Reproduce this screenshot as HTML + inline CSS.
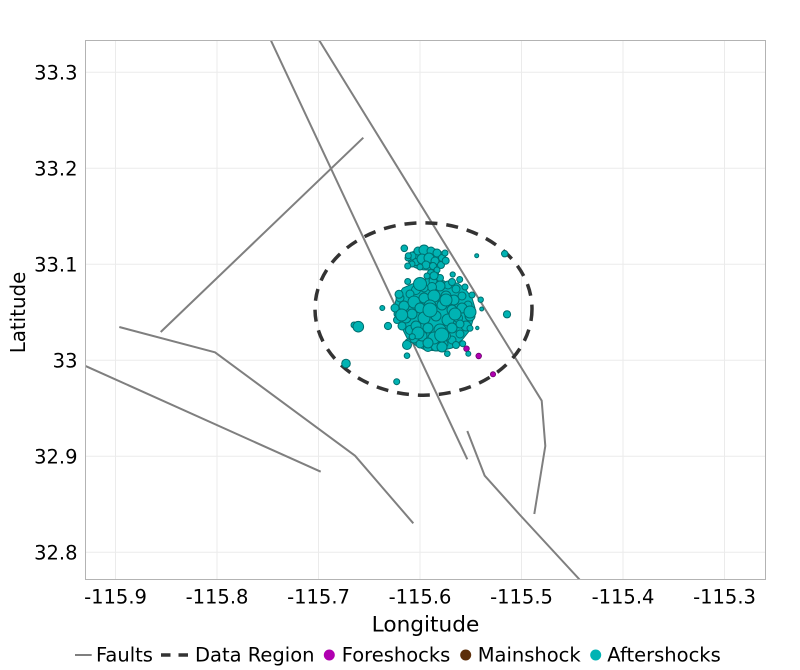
<!DOCTYPE html>
<html><head><meta charset="utf-8"><style>
html,body{margin:0;padding:0;background:#fff;}
svg{display:block;}
text{font-family:"DejaVu Sans","Liberation Sans",sans-serif;fill:#000;}
</style></head><body>
<svg width="800" height="670" viewBox="0 0 800 670" xmlns="http://www.w3.org/2000/svg">
<defs><clipPath id="pc"><rect x="85.5" y="40.5" width="680" height="539"/></clipPath></defs>
<rect x="0" y="0" width="800" height="670" fill="#fff"/>
<!-- grid -->
<g stroke="#ebebeb" stroke-width="1">
<line x1="85.5" x2="765.5" y1="72.3" y2="72.3"/>
<line x1="85.5" x2="765.5" y1="168.3" y2="168.3"/>
<line x1="85.5" x2="765.5" y1="264.3" y2="264.3"/>
<line x1="85.5" x2="765.5" y1="360.3" y2="360.3"/>
<line x1="85.5" x2="765.5" y1="456.3" y2="456.3"/>
<line x1="85.5" x2="765.5" y1="552.3" y2="552.3"/>
<line y1="40.5" y2="579.5" x1="115.5" x2="115.5"/>
<line y1="40.5" y2="579.5" x1="217" x2="217"/>
<line y1="40.5" y2="579.5" x1="318.5" x2="318.5"/>
<line y1="40.5" y2="579.5" x1="420" x2="420"/>
<line y1="40.5" y2="579.5" x1="521.5" x2="521.5"/>
<line y1="40.5" y2="579.5" x1="623" x2="623"/>
<line y1="40.5" y2="579.5" x1="724.5" x2="724.5"/>
</g>
<g clip-path="url(#pc)">
<!-- faults -->
<g stroke="#7f7f7f" stroke-width="2" fill="none" stroke-linejoin="round">
<polyline points="270.7,40 467.3,459.3"/>
<polyline points="319,40 541.7,400.7 545.3,446 534.3,514"/>
<polyline points="160.7,332 363.3,137.7"/>
<polyline points="119.3,327 215,352.3 355,455.7 413.3,523.3"/>
<polyline points="80,363.5 320.7,471.7"/>
<polyline points="467.3,431 484.7,475.7 520,515 580,580"/>
</g>
<!-- data region -->
<ellipse cx="423.5" cy="309" rx="108.5" ry="86.2" fill="none" stroke="#333" stroke-width="3.5" stroke-dasharray="12 9"/>
<!-- foreshocks -->
<g fill="#b000b0" stroke="#6a006a" stroke-width="0.8">
<circle cx="425" cy="338.3" r="2.8"/>
<circle cx="456" cy="342.3" r="2.5"/>
<circle cx="466.5" cy="348.7" r="2.8"/>
<circle cx="478.7" cy="356" r="2.8"/>
<circle cx="493" cy="374.3" r="2.6"/>
<circle cx="408" cy="312" r="2.2"/>
</g>
<!-- aftershock blob base -->
<g fill="#00b3b3" stroke="#006e6e" stroke-width="1">
<ellipse cx="427" cy="259" rx="19" ry="11"/>
<path d="M397,296 L403,288 L412,284 L425,280 L430,272 L438,272 L440,279 L448,283 L458,283 L466,290 L472,298 L475,308 L473,320 L470,330 L462,340 L452,348 L440,351 L425,350 L415,345 L407,338 L402,328 L396,318 L394,308 Z"/>
</g>
<!-- aftershocks -->
<g fill="#00b3b3" stroke="#006e6e" stroke-width="1">
<circle cx="412" cy="256" r="4"/><circle cx="418" cy="251" r="4"/><circle cx="424" cy="250" r="5"/>
<circle cx="431" cy="251" r="4"/><circle cx="437" cy="253" r="4"/><circle cx="442" cy="258" r="3.5"/>
<circle cx="416" cy="262" r="3.5"/><circle cx="422" cy="259" r="5"/><circle cx="429" cy="258" r="5"/>
<circle cx="435" cy="261" r="4"/><circle cx="441" cy="265" r="3.5"/><circle cx="426" cy="265" r="4"/>
<circle cx="433" cy="266" r="3.5"/><circle cx="420" cy="267" r="3"/><circle cx="412" cy="264" r="3"/>
<circle cx="445" cy="253" r="3"/><circle cx="408" cy="258" r="3"/><circle cx="437" cy="270" r="3"/>
<circle cx="431" cy="273" r="3.5"/><circle cx="433" cy="281" r="4"/><circle cx="440" cy="278" r="3.5"/>
<circle cx="427" cy="276" r="3"/>
<circle cx="400" cy="298" r="4"/><circle cx="404" cy="306" r="5"/><circle cx="398" cy="314" r="4"/>
<circle cx="406" cy="318" r="5"/><circle cx="402" cy="326" r="4"/><circle cx="410" cy="330" r="4.5"/>
<circle cx="414" cy="338" r="5"/><circle cx="420" cy="344" r="4"/><circle cx="428" cy="347" r="4.5"/>
<circle cx="436" cy="346" r="5"/><circle cx="444" cy="344" r="4"/><circle cx="452" cy="340" r="4"/>
<circle cx="460" cy="334" r="4"/><circle cx="466" cy="326" r="5"/><circle cx="470" cy="316" r="5"/>
<circle cx="468" cy="305" r="4"/><circle cx="462" cy="296" r="4"/><circle cx="456" cy="289" r="4"/>
<circle cx="448" cy="285" r="4"/><circle cx="440" cy="286" r="5"/><circle cx="432" cy="287" r="4.5"/>
<circle cx="424" cy="288" r="4"/><circle cx="416" cy="290" r="4.5"/><circle cx="410" cy="294" r="4"/>
<circle cx="414" cy="302" r="6"/><circle cx="424" cy="298" r="5"/><circle cx="434" cy="296" r="6"/>
<circle cx="446" cy="296" r="5"/><circle cx="454" cy="300" r="5"/><circle cx="462" cy="308" r="5"/>
<circle cx="420" cy="308" r="5"/><circle cx="430" cy="306" r="6"/><circle cx="442" cy="305" r="5"/>
<circle cx="452" cy="310" r="5"/><circle cx="412" cy="314" r="5"/><circle cx="424" cy="318" r="6"/>
<circle cx="436" cy="316" r="5"/><circle cx="448" cy="320" r="6"/><circle cx="458" cy="318" r="4.5"/>
<circle cx="416" cy="326" r="5"/><circle cx="428" cy="328" r="5"/><circle cx="440" cy="330" r="6"/>
<circle cx="452" cy="328" r="5"/><circle cx="460" cy="324" r="4"/><circle cx="422" cy="336" r="5"/>
<circle cx="434" cy="338" r="6"/><circle cx="446" cy="336" r="4.5"/><circle cx="428" cy="343" r="5"/>
<circle cx="442" cy="347" r="5"/><circle cx="418" cy="283" r="3.5"/><circle cx="452" cy="282" r="3.5"/>
<circle cx="465" cy="287" r="3"/><circle cx="472" cy="295" r="3"/><circle cx="395" cy="308" r="4"/>
<circle cx="397" cy="320" r="3.5"/><circle cx="408" cy="342" r="3"/><circle cx="456" cy="345" r="3.5"/>
<circle cx="441.7" cy="335" r="7"/><circle cx="420" cy="284" r="6.5"/><circle cx="401.7" cy="315" r="6"/>
<circle cx="418" cy="333" r="6"/><circle cx="430" cy="310" r="7"/><circle cx="455" cy="314" r="6"/>
<circle cx="470" cy="312" r="6"/><circle cx="446" cy="300" r="6"/>
<!-- scattered -->
<circle cx="404.3" cy="248.3" r="3.3"/><circle cx="408.3" cy="255.7" r="3"/>
<circle cx="476.7" cy="255.7" r="2"/><circle cx="504.7" cy="253.7" r="3.2"/>
<circle cx="407.7" cy="266" r="3"/><circle cx="445.7" cy="260.7" r="3.5"/>
<circle cx="452.7" cy="274.5" r="2.6"/><circle cx="459.7" cy="279.5" r="3"/>
<circle cx="407.7" cy="281.5" r="3"/><circle cx="399" cy="294.3" r="4"/>
<circle cx="382.3" cy="308" r="2.5"/><circle cx="480.7" cy="299.7" r="2.7"/>
<circle cx="481.7" cy="309" r="2"/><circle cx="507" cy="314.3" r="3.6"/>
<circle cx="388" cy="326" r="3.6"/><circle cx="477.3" cy="328" r="1.7"/>
<circle cx="407" cy="345" r="4.5"/><circle cx="407" cy="355.7" r="2.8"/>
<circle cx="447.3" cy="353.7" r="2.8"/><circle cx="468.3" cy="353.7" r="2.5"/>
<circle cx="462.7" cy="343.7" r="3"/><circle cx="396.7" cy="381.7" r="3"/>
<circle cx="354" cy="325" r="3"/><circle cx="358.3" cy="326.7" r="5.3"/>
<circle cx="346" cy="363.5" r="4.3"/><circle cx="412.3" cy="336.7" r="3"/>
<circle cx="470" cy="328.3" r="3"/><circle cx="434" cy="275.7" r="4"/>
</g>
</g>
<!-- panel border -->
<rect x="85.5" y="40.5" width="680" height="539" fill="none" stroke="#b3b3b3" stroke-width="1"/>
<!-- y tick labels -->
<g font-size="19.5" text-anchor="end">
<text x="77.5" y="79.3">33.3</text>
<text x="77.5" y="175.3">33.2</text>
<text x="77.5" y="271.3">33.1</text>
<text x="77.5" y="367.3">33</text>
<text x="77.5" y="463.3">32.9</text>
<text x="77.5" y="559.3">32.8</text>
</g>
<!-- x tick labels -->
<g font-size="19.5" text-anchor="middle">
<text x="115.5" y="603.3">-115.9</text>
<text x="217" y="603.3">-115.8</text>
<text x="318.5" y="603.3">-115.7</text>
<text x="420" y="603.3">-115.6</text>
<text x="521.5" y="603.3">-115.5</text>
<text x="623" y="603.3">-115.4</text>
<text x="724.5" y="603.3">-115.3</text>
</g>
<!-- axis titles -->
<text x="371.7" y="631.7" font-size="21" textLength="107.6" lengthAdjust="spacingAndGlyphs">Longitude</text>
<text transform="translate(25,353.3) rotate(-90)" x="0" y="0" font-size="20.5" textLength="81.6" lengthAdjust="spacingAndGlyphs">Latitude</text>
<!-- legend -->
<line x1="75" x2="91.7" y1="655" y2="655" stroke="#7f7f7f" stroke-width="2"/>
<text x="96" y="661.7" font-size="19.5">Faults</text>
<line x1="161" x2="189" y1="655" y2="655" stroke="#333" stroke-width="3.5" stroke-dasharray="9.5 8"/>
<text x="195" y="661.7" font-size="19.5">Data Region</text>
<circle cx="329.3" cy="655" r="5.5" fill="#b000b0"/>
<text x="341.7" y="661.7" font-size="19.5">Foreshocks</text>
<circle cx="465.7" cy="655" r="5.5" fill="#5c2e0a"/>
<text x="477.7" y="661.7" font-size="19.5">Mainshock</text>
<circle cx="595.7" cy="655" r="5.5" fill="#00b3b3"/>
<text x="607.3" y="661.7" font-size="19.5">Aftershocks</text>
</svg>
</body></html>
